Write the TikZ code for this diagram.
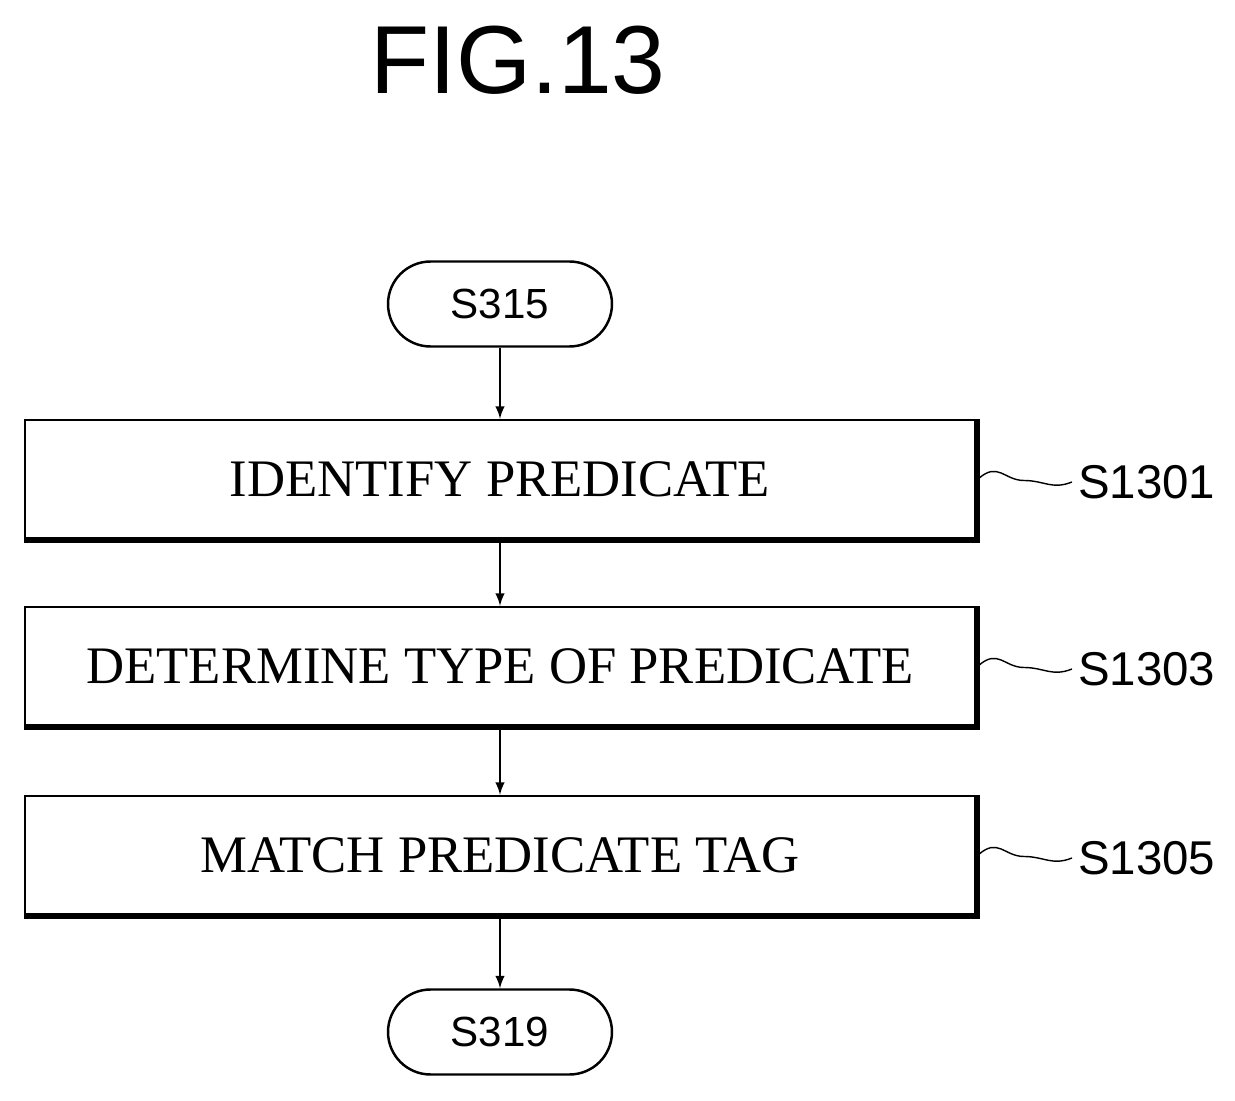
\documentclass[tikz,border=0pt]{standalone}
\usepackage{fontspec}
\setmainfont{Liberation Serif}
\setsansfont{Liberation Sans}
\usetikzlibrary{arrows, calc, positioning}
\tikzstyle{procbox} = [rectangle, line width=1.4pt, minimum width=19cm, minimum height=2.36cm, text centered, draw=black, font=\fontsize{30}{34}\selectfont]
\tikzstyle{term} = [rectangle, rounded corners=0.85cm, line width=1.4pt, minimum width=4.48cm, minimum height=1.7cm, draw=black, font=\sffamily\fontsize{24}{28}\selectfont]
\tikzstyle{arrow} = [line width=1.4pt,-latex]
\tikzstyle{tag} = [anchor=west, font=\sffamily\fontsize{27}{30}\selectfont]
\begin{document}
\begin{tikzpicture}[x=0.02cm, y=-0.02cm]
		\useasboundingbox (0,0) rectangle (1235,1101);
		\node (Title) [font=\sffamily\fontsize{55}{60}\selectfont] at (518,60) {FIG.13};
		\node (Start) [term] at (500,304) {S315};
		\node (Identify) [procbox] at (500,479) {IDENTIFY PREDICATE};
		\node (Determine) [procbox] at (500,666) {DETERMINE TYPE OF PREDICATE};
		\node (Match) [procbox] at (500,855) {MATCH PREDICATE TAG};
		\node (End) [term] at (500,1032) {S319};
		\node (TagA) [tag] at (1072,482) {S1301};
		\node (TagB) [tag] at (1072,669) {S1303};
		\node (TagC) [tag] at (1072,858) {S1305};
		% heavier lower and right edges
		\foreach \b in {Identify, Determine, Match}
			\draw [line width=2.8pt] ($(\b.south west)+(0,1)$) -- ($(\b.south east)+(1,1)$) -- ($(\b.north east)+(1,0)$);
		\draw [arrow] (Start) -- (Identify);
		\draw [arrow] (Identify) -- (Determine);
		\draw [arrow] (Determine) -- (Match);
		\draw [arrow] (Match) -- (End);
		\foreach \b/\t in {Identify/TagA, Determine/TagB, Match/TagC}
			\draw [line width=0.8pt] ($(\b.east)+(2,0)$) .. controls +(20,-18) and +(-20,0) .. ($(\b.east)!0.5!(\t.west)$) .. controls +(20,0) and +(-20,8) .. (\t.west);
\end{tikzpicture}
\end{document}
